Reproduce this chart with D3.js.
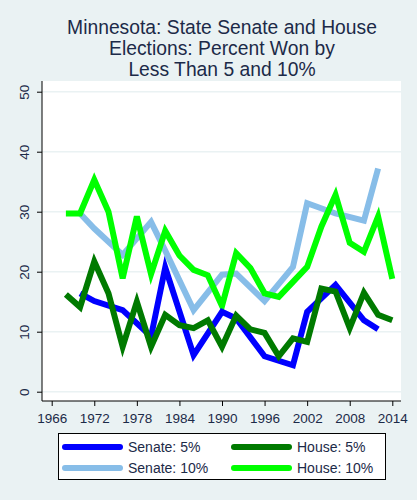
<!DOCTYPE html>
<html>
<head>
<meta charset="utf-8">
<script src="https://cdn.jsdelivr.net/npm/d3@7"></script>
<style>
  html, body { margin: 0; padding: 0; background: #eaf2f3; }
  svg { display: block; font-family: Arial, "Liberation Sans", sans-serif; }
  .tick text { fill: #1c2a48; font-size: 13.5px; }
  .title { fill: #1c2a48; font-size: 19.3px; text-anchor: middle; }
  .legend-label { fill: #1c2a48; font-size: 14px; }
</style>
</head>
<body>
<svg id="chart" width="417" height="500"></svg>
<script>
// Election years
const houseYears = [1968, 1970, 1972, 1974, 1976, 1978, 1980, 1982, 1984, 1986, 1988, 1990,
  1992, 1994, 1996, 1998, 2000, 2002, 2004, 2006, 2008, 2010, 2012, 2014];
const senateYears = [1970, 1972, 1976, 1980, 1982, 1986, 1990, 1992, 1996, 2000, 2002, 2006, 2010, 2012];

// Percent of races won by less than 5% / 10%
const senate5 = [16.4, 15.1, 13.6, 9.2, 20.7, 6.1, 13.3, 12.2, 5.9, 4.4, 13.3, 17.8, 11.9, 10.4];
const senate10 = [29.7, 27.2, 22.8, 28.3, 23.5, 13.6, 19.5, 19.7, 15.1, 20.8, 31.4, 29.7, 28.5, 37.2];
const house5 = [16.2, 14.1, 21.7, 16.4, 7.5, 15.0, 7.5, 12.8, 11.1, 10.6, 11.9, 7.5,
  12.7, 10.4, 9.8, 5.9, 8.9, 8.3, 17.2, 16.7, 10.6, 16.5, 12.8, 11.9];
const house10 = [29.7, 29.7, 35.3, 30.0, 18.9, 29.2, 19.6, 26.8, 22.7, 20.3, 19.4, 14.3,
  23.1, 20.6, 16.4, 15.8, 18.3, 20.8, 27.5, 32.8, 24.8, 23.3, 29.2, 18.8];

const xTicks = [1966, 1972, 1978, 1984, 1990, 1996, 2002, 2008, 2014];
const yTicks = [0, 10, 20, 30, 40, 50];

const series = [
  { name: 'Senate: 10%', years: senateYears, values: senate10, color: '#87bde8' },
  { name: 'House: 10%', years: houseYears, values: house10, color: '#00ff00' },
  { name: 'Senate: 5%', years: senateYears, values: senate5, color: '#0000ff' },
  { name: 'House: 5%', years: houseYears, values: house5, color: '#007a00' }
];
const legendOrder = ['Senate: 5%', 'House: 5%', 'Senate: 10%', 'House: 10%'];

const svg = d3.select('#chart');
const plot = { left: 42, right: 401, top: 81, bottom: 401 };

// Title
const titleLines = ['Minnesota: State Senate and House', 'Elections: Percent Won by', 'Less Than 5 and 10%'];
svg.selectAll('text.title').data(titleLines).join('text')
  .attr('class', 'title')
  .attr('x', 222).attr('y', (d, i) => 33.5 + i * 21)
  .text(d => d);

// Plot region
svg.append('rect')
  .attr('x', plot.left).attr('y', plot.top)
  .attr('width', plot.right - plot.left).attr('height', plot.bottom - plot.top)
  .attr('fill', '#fff');

const x = d3.scaleLinear().domain([1966, 2014]).range([51.7, 392.3]);
const y = d3.scaleLinear().domain([0, 50]).range([391.7, 91.7]);

// Gridlines
svg.append('g').selectAll('line').data(yTicks).join('line')
  .attr('x1', plot.left).attr('x2', plot.right)
  .attr('y1', d => y(d)).attr('y2', d => y(d))
  .attr('stroke', '#eaf2f3').attr('stroke-width', 1.5);

// Lines
const line = d3.line().x(d => x(d[0])).y(d => y(d[1]));
series.forEach(s => {
  svg.append('path')
    .datum(d3.zip(s.years, s.values))
    .attr('fill', 'none')
    .attr('stroke', s.color)
    .attr('stroke-width', 6)
    .attr('stroke-linejoin', 'miter')
    .attr('d', line);
});

// Axes
const xAxis = svg.append('g')
  .attr('transform', `translate(0,${plot.bottom})`)
  .call(d3.axisBottom(x).tickValues(xTicks).tickFormat(d3.format('d')).tickSize(5).tickSizeOuter(0));
xAxis.select('.domain').attr('d', `M${plot.left},0H${plot.right}`).attr('stroke', '#000');
xAxis.selectAll('.tick text').attr('dy', '1.05em');

const yAxis = svg.append('g')
  .attr('transform', `translate(${plot.left},0)`)
  .call(d3.axisLeft(y).tickValues(yTicks).tickSize(5).tickSizeOuter(0));
yAxis.select('.domain').attr('d', `M0,${plot.top}V${plot.bottom}`).attr('stroke', '#000');
yAxis.selectAll('.tick text')
  .attr('x', 0).attr('dy', 0)
  .attr('text-anchor', 'middle')
  .attr('transform', 'translate(-13,0) rotate(-90)');

// Legend
const legend = svg.append('g');
legend.append('rect')
  .attr('x', 58.5).attr('y', 433.5).attr('width', 327).attr('height', 46)
  .attr('fill', '#fff').attr('stroke', '#000');
legendOrder.forEach((name, i) => {
  const s = series.find(d => d.name === name);
  const col = i % 2, row = Math.floor(i / 2);
  const lx = 65 + col * 169, ly = 447 + row * 21;
  legend.append('line')
    .attr('x1', lx).attr('x2', lx + 55).attr('y1', ly).attr('y2', ly)
    .attr('stroke', s.color).attr('stroke-width', 6).attr('stroke-linecap', 'round');
  legend.append('text')
    .attr('class', 'legend-label')
    .attr('x', lx + 63).attr('y', ly + 5)
    .text(name);
});
</script>
</body>
</html>
